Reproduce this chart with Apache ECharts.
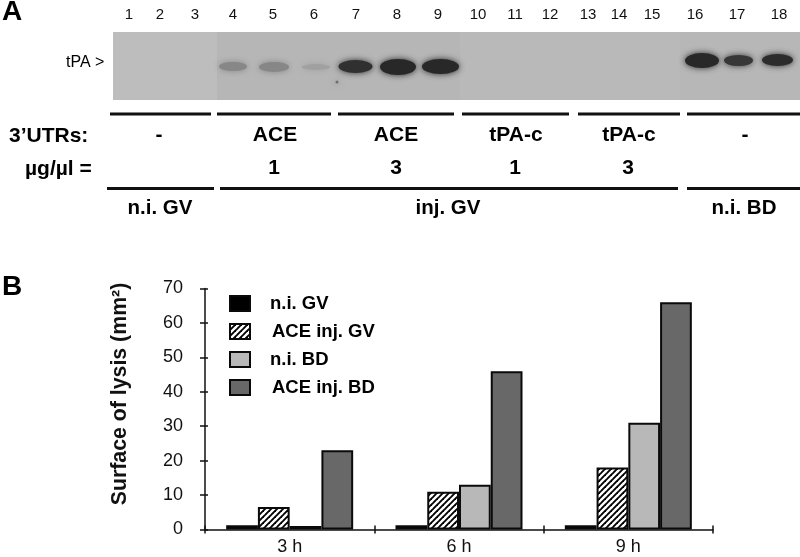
<!DOCTYPE html>
<html><head><meta charset="utf-8">
<style>html,body{margin:0;padding:0;background:#fff}#c{width:800px;height:557px}</style>
<script src="https://cdn.jsdelivr.net/npm/echarts@6/dist/echarts.min.js"></script>
</head><body><div id="c"></div>
<script>
// Panel B data
const timepoints = ['3 h','6 h','9 h'];
const niGV    = [1.2, 1.2, 1.2];
const aceGV   = [6.5, 11, 18];
const niBD    = [1, 13, 31];
const aceBD   = [23, 46, 66];
const seriesNames = ['n.i. GV','ACE inj. GV','n.i. BD','ACE inj. BD'];
// Panel A data
const laneLabels = ['1','2','3','4','5','6','7','8','9','10','11','12','13','14','15','16','17','18'];
const lanePositions = [129,160,195,233,273,314,356,397,438,478,515,550,588,619,652,695,737,779];
const bandX = [233,274,316,355.5,398,440.5,702,738.5,777.5,337];
const bandY = [66.5,67,67,66.5,67,66.5,60.5,60.5,60,82];
const bandWidth = [28,30,28,34,36,37,34,29,31,3];
const bandHeight = [9,10,6,13,16,15,15,11,12,3];
const bandGray = [135,135,160,48,40,40,40,55,44,110];
const gelPanels = [[113,217,'#bdbdbd'],[217,460,'#b6b6b6'],[460,680,'#b9b9b9'],[680,800,'#b7b7b7']];
const utrLabels = ['-','ACE','ACE','tPA-c','tPA-c','-'];
const doseLabels = ['1','3','1','3'];
const sourceLabels = ['n.i. GV','inj. GV','n.i. BD'];

const pc = document.createElement('canvas');
pc.width = 6; pc.height = 6;
const g = pc.getContext('2d');
g.fillStyle = '#fff'; g.fillRect(0,0,6,6);
g.strokeStyle = '#000'; g.lineWidth = 1.9;
[[-1,1,1,-1],[-1,7,7,-1],[5,7,7,5]].forEach(l=>{g.beginPath();g.moveTo(l[0],l[1]);g.lineTo(l[2],l[3]);g.stroke();});

const font = '"Liberation Sans", Arial, sans-serif';
const txt = (t,x,y,size,weight,align) => ({type:'text',x,y,silent:true,style:{text:t,fontFamily:font,fontSize:size,fontWeight:weight||'bold',fill:'#000',align:align||'center',verticalAlign:'middle'}});
const seg = (x1,x2,y) => ({type:'line',silent:true,shape:{x1,y1:y,x2,y2:y},style:{stroke:'#111',lineWidth:3}});

const graphics = [
  txt('A',2,12,28,'bold','left'), txt('B',2,287,28,'bold','left'),
  txt('tPA >',66,63,16,'normal','left'),
  seg(110,211,114),seg(217,331,114),seg(338,454,114),seg(462,569,114),seg(578,680,114),seg(687,800,114),
  seg(107,214,188.5),seg(220,678,188.5),seg(687,800,188.5),
  txt('3’UTRs:',9,136,21,'bold','left'), txt('µg/µl =',25,169,21,'bold','left')
];
[159,275,396,516,629,745].forEach((x,i)=>graphics.push(txt(utrLabels[i],x,135.5,21)));
[274,396,515,628].forEach((x,i)=>graphics.push(txt(doseLabels[i],x,168.5,21)));
[160,448,744].forEach((x,i)=>graphics.push(txt(sourceLabels[i],x,208,20.5)));

const barSeries = (name,data,style) => ({name,type:'bar',data,xAxisIndex:0,yAxisIndex:0,barGap:0,barCategoryGap:'25%',itemStyle:Object.assign({borderColor:'#0a0a0a',borderWidth:2},style),emphasis:{disabled:true},animation:false});

const chart = echarts.init(document.getElementById('c'));
chart.setOption({
  animation:false, backgroundColor:'#fff',
  textStyle:{fontFamily:font},
  grid:[
    {left:205,top:288.5,width:508,height:241,containLabel:false},
    {left:113,top:32,width:687,height:68,show:true,backgroundColor:'#b9b9b9',borderWidth:0}
  ],
  legend:{
    left:224,top:289,orient:'vertical',icon:'rect',itemWidth:20,itemHeight:15,itemGap:9,selectedMode:false,
    textStyle:{fontFamily:font,fontWeight:'bold',fontSize:18.5,color:'#000'},
    data:seriesNames.map((n,i)=>({name:n,textStyle:{padding:[0,0,0,i%2?17:15]}}))
  },
  xAxis:[
    {gridIndex:0,type:'category',position:'bottom',data:timepoints,axisLine:{lineStyle:{color:'#111',width:1.5}},axisTick:{show:true,length:4,lineStyle:{color:'#111',width:1.5}},axisLabel:{color:'#111',fontSize:18,margin:9,fontFamily:font}},
    {gridIndex:0,type:'category',position:'bottom',data:timepoints,axisLine:{show:false},axisTick:{show:true,inside:true,length:4,lineStyle:{color:'#111',width:1.5}},axisLabel:{show:false}},
    {gridIndex:1,type:'value',position:'top',min:113,max:800,splitLine:{show:false},axisLine:{show:false},axisTick:{show:false},
      axisLabel:{customValues:lanePositions,formatter:v=>laneLabels[lanePositions.indexOf(v)],color:'#111',fontSize:15,margin:10,fontFamily:font}}
  ],
  yAxis:[
    {gridIndex:0,type:'value',position:'left',min:0,max:70,interval:10,splitLine:{show:false},
      axisLine:{show:true,lineStyle:{color:'#111',width:1.5}},axisTick:{show:true,length:5,lineStyle:{color:'#111',width:1.5}},
      axisLabel:{color:'#111',fontSize:18,margin:22,fontFamily:font},
      name:'Surface of lysis (mm²)',nameLocation:'middle',nameRotate:90,nameGap:74,
      nameTextStyle:{fontFamily:font,fontWeight:'bold',fontSize:21.3,color:'#111',padding:[0,0,0,30]}},
    {gridIndex:0,type:'value',position:'left',min:0,max:70,interval:10,splitLine:{show:false},axisLine:{show:false},axisTick:{show:true,inside:true,length:3,lineStyle:{color:'#111',width:1.5}},axisLabel:{show:false}},
    {gridIndex:1,type:'value',inverse:true,min:32,max:100,show:false,splitLine:{show:false}}
  ],
  series:[
    barSeries(seriesNames[0],niGV,{color:'#000'}),
    barSeries(seriesNames[1],aceGV,{color:{image:pc,repeat:'repeat'}}),
    barSeries(seriesNames[2],niBD,{color:'#b8b8b8'}),
    barSeries(seriesNames[3],aceBD,{color:'#686868'}),
    {type:'scatter',xAxisIndex:2,yAxisIndex:2,silent:true,animation:false,
     markArea:{silent:true,itemStyle:{opacity:1},label:{show:false},
       data:gelPanels.map(p=>[{xAxis:p[0],yAxis:32,itemStyle:{color:p[2]}},{xAxis:p[1],yAxis:100}])},
     data:bandX.map((x,i)=>{
       const c=`rgb(${bandGray[i]},${bandGray[i]},${bandGray[i]})`;
       return {value:[x,bandY[i]],symbol:'circle',symbolSize:[bandWidth[i],bandHeight[i]],
         itemStyle:{color:c,shadowColor:c,shadowBlur:6,opacity:1}};
     })}
  ],
  graphic:graphics
});
</script></body></html>
